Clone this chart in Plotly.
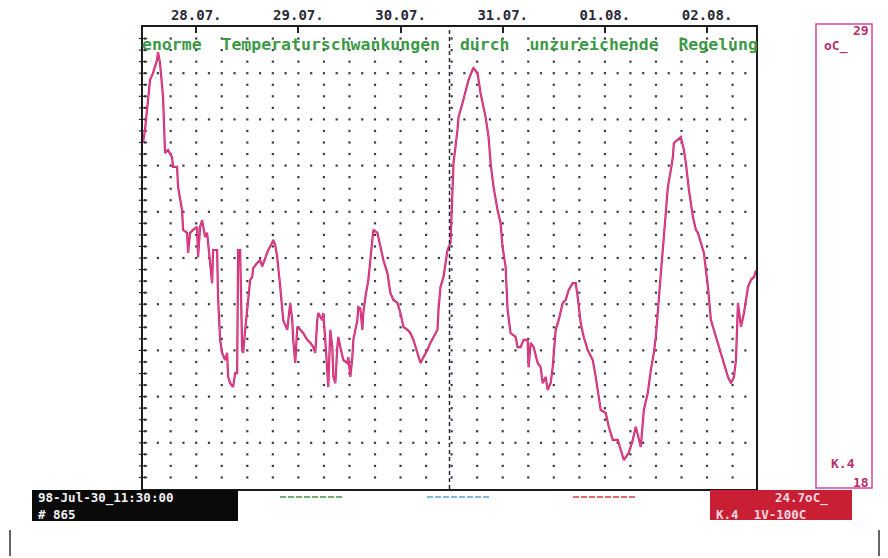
import plotly.graph_objects as go
import pandas as pd

# ---------------- data ----------------
START = "1998-07-27 11:30"
END = "1998-08-02 11:30"
CURSOR_TIME = "1998-07-30 11:30"

# hours after START
hours = [0, 0.47, 0.94, 1.65, 2.35, 3.29, 3.53, 4.0, 4.71, 5.18, 5.88, 6.82, 7.06, 8.0, 8.24, 9.18,
         9.41, 10.35, 10.59, 11.06, 11.76, 12.71, 12.94, 13.41, 13.88, 14.59, 15.06, 15.29, 16.24,
         16.47, 17.41, 17.65, 18.12, 18.59, 19.29, 19.76, 20.0, 20.47, 21.18, 21.65, 22.12, 22.35,
         22.82, 23.29, 23.53, 24.0, 24.71, 25.18, 25.65, 25.88, 26.82, 27.53, 28.0, 28.71, 29.41,
         30.35, 30.59, 31.06, 31.53, 32.24, 32.94, 33.88, 34.59, 35.06, 35.29, 35.76, 36.24, 36.94,
         37.65, 38.59, 39.29, 40.0, 40.47, 40.94, 41.18, 42.12, 42.35, 42.82, 43.29, 43.53, 44.0,
         44.47, 44.71, 45.18, 45.65, 45.88, 46.35, 47.06, 48.0, 48.24, 48.71, 49.18, 49.41, 50.35,
         50.59, 51.06, 51.53, 51.76, 52.24, 52.94, 53.88, 54.12, 55.06, 55.76, 56.47, 57.41, 58.12,
         58.82, 59.76, 60.47, 61.18, 62.12, 62.82, 63.53, 64.0, 64.47, 65.18, 65.88, 66.82, 67.53,
         68.24, 69.18, 69.41, 69.88, 70.59, 71.53, 72.24, 72.5, 72.94, 73.88, 74.12, 75.06, 75.76,
         76.47, 77.41, 77.65, 78.59, 79.29, 80.47, 81.18, 81.65, 82.35, 83.29, 84.0, 84.47, 85.18,
         85.65, 86.35, 87.53, 88.0, 88.71, 89.41, 90.35, 90.59, 91.06, 91.76, 92.71, 93.41, 93.88,
         94.59, 95.06, 95.76, 96.24, 96.94, 97.65, 98.59, 99.29, 100.0, 100.94, 101.65, 102.12,
         102.82, 103.53, 104.47, 105.65, 106.35, 107.53, 108.71, 109.41, 110.35, 111.53, 112.24,
         112.94, 114.12, 115.06, 115.76, 116.47, 116.94, 117.65, 118.59, 119.29, 120.0, 120.47,
         121.18, 121.65, 122.35, 122.8, 123.29, 124.0, 124.47, 124.71, 126.35, 127.06, 127.53,
         128.24, 129.18, 129.88, 130.35, 131.76, 132.71, 133.41, 134.59, 135.76, 136.47, 137.41,
         138.12, 138.82, 139.29, 139.76, 140.47, 141.18, 142.12, 142.82, 143.53, 144.0]

# temperature in degC
temps = [26.24, 26.55, 27.02, 27.74, 27.90, 28.21, 28.40, 28.14, 27.33, 26.0, 26.07, 25.90, 25.67,
         25.67, 25.19, 24.64, 24.17, 24.10, 23.62, 24.10, 24.17, 24.24, 23.52, 24.24, 24.40, 24.0,
         24.10, 23.86, 22.90, 23.69, 23.69, 22.50, 21.55, 21.24, 21.07, 21.24, 20.67, 20.52, 20.43,
         20.76, 20.76, 23.69, 23.69, 21.31, 21.24, 21.79, 22.43, 22.98, 23.05, 23.26, 23.38, 23.45,
         23.30, 23.52, 23.69, 23.86, 23.93, 23.81, 23.52, 22.81, 22.02, 21.79, 22.43, 22.02, 21.55,
         21.0, 21.86, 21.79, 21.71, 21.55, 21.48, 21.38, 21.24, 22.02, 22.19, 22.02, 22.19, 21.55,
         20.67, 20.43, 21.79, 21.38, 20.67, 20.52, 21.38, 21.62, 21.38, 21.07, 21.0, 21.14, 20.67,
         21.14, 21.55, 22.02, 22.33, 22.30, 21.79, 22.19, 22.57, 22.98, 23.93, 24.17, 24.10, 23.76,
         23.45, 23.14, 22.67, 22.50, 22.43, 22.19, 21.86, 21.79, 21.71, 21.55, 21.38, 21.24, 21.0,
         21.14, 21.31, 21.48, 21.62, 21.79, 22.26, 22.81, 23.05, 23.69, 23.86, 24.7, 25.76, 26.55,
         26.86, 27.19, 27.50, 27.74, 27.98, 28.02, 27.90, 27.43, 26.86, 26.38, 25.76, 25.19, 24.64,
         24.33, 23.76, 23.29, 22.26, 21.71, 21.62, 21.38, 21.38, 21.55, 21.55, 20.90, 21.48, 21.38,
         21.0, 20.90, 20.52, 20.67, 20.36, 20.52, 20.90, 21.79, 22.02, 22.43, 22.50, 22.74, 22.90,
         22.90, 22.57, 21.95, 21.62, 21.31, 21.07, 20.67, 19.88, 19.81, 19.48, 19.17, 19.17, 18.93,
         18.69, 18.86, 19.17, 19.48, 19.17, 19.0, 19.88, 20.29, 20.83, 21.24, 21.62, 22.43, 23.14,
         24.0, 24.5, 25.19, 25.60, 25.90, 26.24, 26.38, 26.07, 25.76, 25.12, 24.48, 24.17, 24.10,
         23.62, 22.81, 22.02, 21.62, 21.24, 21.0, 20.67, 20.52, 20.67, 21.07, 22.43, 21.86, 22.19,
         22.81, 22.98, 23.05, 23.2]

day_ticks = ["1998-07-28", "1998-07-29", "1998-07-30", "1998-07-31", "1998-08-01", "1998-08-02"]
day_labels = ["28.07.", "29.07.", "30.07.", "31.07.", "01.08.", "02.08."]

Y_MIN, Y_MAX = 18, 29
title_text = "enorme  Temperaturschwankungen  durch  unzureichende  Regelung"
cursor_stamp = "98-Jul-30_11:30:00"
cursor_count = "# 865"
current_value = "24.7oC_"
channel_info = "K.4  1V-100C"
unit_label = "oC_"
channel_label = "K.4"

# ---------------- helpers (page has an 8px body margin) ----------------
OFF = 8
W, H = 880, 550
def px(x):
    return (x - OFF) / W
def py(y):
    return 1 - (y - OFF) / H

PLOT_L, PLOT_R, PLOT_T, PLOT_B = 143, 756, 27, 489
MONO = "DejaVu Sans Mono"
PINK = "#b8306e"

times = pd.Timestamp(START) + pd.to_timedelta(hours, unit="h")

fig = go.Figure()

# dotted recorder grid
n_sub = 40
cols6 = pd.date_range("1998-07-27 12:00", "1998-08-02 06:00", freq="6h")
cols3 = pd.date_range("1998-07-27 12:00", "1998-08-02 09:00", freq="3h")
gx, gy = [], []
for k in range(1, n_sub):
    yv = Y_MIN + (Y_MAX - Y_MIN) * k / n_sub
    cols = cols3 if k % 4 == 0 else cols6
    for c in cols:
        gx.append(c)
        gy.append(yv)
fig.add_trace(go.Scatter(x=gx, y=gy, mode="markers", hoverinfo="skip",
                         marker=dict(symbol="square", size=2.2, color="#3a3a48", line=dict(width=0))))

# left-edge ticks
lx, ly = [], []
for k in range(1, n_sub):
    lx.append(pd.Timestamp(START))
    ly.append(Y_MIN + (Y_MAX - Y_MIN) * k / n_sub)
fig.add_trace(go.Scatter(x=lx, y=ly, mode="markers", hoverinfo="skip", cliponaxis=False,
                         marker=dict(symbol="line-ew", size=6, line=dict(width=1.2, color="#333"))))

# temperature curve
fig.add_trace(go.Scatter(x=times, y=temps, mode="lines", hoverinfo="skip",
                         line=dict(color="#c8285a", width=2.2)))
fig.add_trace(go.Scatter(x=times, y=temps, mode="lines", hoverinfo="skip",
                         line=dict(color="#e24aae", width=0.9)))

shapes = []
# cursor
shapes.append(dict(type="line", xref="x", yref="paper", x0=CURSOR_TIME, x1=CURSOR_TIME,
                   y0=py(PLOT_B), y1=py(PLOT_T), line=dict(color="#2a2a3a", width=1.5, dash="4px,3px")))
# right panel
shapes.append(dict(type="rect", xref="paper", yref="paper", x0=px(816), x1=px(872), y0=py(488), y1=py(24),
                   line=dict(color="#d8459c", width=1.5), fillcolor="rgba(0,0,0,0)"))
# black info box
shapes.append(dict(type="rect", xref="paper", yref="paper", x0=px(32), x1=px(238), y0=py(521), y1=py(490),
                   line=dict(width=0), fillcolor="#0a0a0a"))
# red value box
shapes.append(dict(type="rect", xref="paper", yref="paper", x0=px(710), x1=px(852), y0=py(520), y1=py(490),
                   line=dict(width=0), fillcolor="#c81f35"))
# legend dashes
for (x0, x1, col) in [(280, 343, "#3c9a46"), (427, 490, "#5aa2e0"), (573, 637, "#d04040")]:
    shapes.append(dict(type="line", xref="paper", yref="paper", x0=px(x0), x1=px(x1), y0=py(497), y1=py(497),
                       line=dict(color=col, width=1.6, dash="6px,2px")))
# little vertical bars at bottom
for xb in (10, 879):
    shapes.append(dict(type="line", xref="paper", yref="paper", x0=px(xb), x1=px(xb), y0=py(556), y1=py(530),
                       line=dict(color="#333", width=1.5)))

annotations = []
annotations.append(dict(xref="paper", yref="paper", x=px(450), y=py(45),
                        text="<b>" + title_text.replace(" ", "\u00a0") + "</b>",
                        showarrow=False, xanchor="center", yanchor="middle",
                        font=dict(family=MONO, size=16.5, color="#3c9a46")))
# right panel texts
annotations += [
    dict(xref="paper", yref="paper", x=px(871), y=py(30), text="<b>29</b>", showarrow=False,
         xanchor="right", yanchor="middle", font=dict(family=MONO, size=13, color=PINK)),
    dict(xref="paper", yref="paper", x=px(822), y=py(46), text="<b>" + unit_label + "</b>", showarrow=False,
         xanchor="left", yanchor="middle", font=dict(family=MONO, size=13, color=PINK)),
    dict(xref="paper", yref="paper", x=px(829), y=py(463), text="<b>" + channel_label + "</b>", showarrow=False,
         xanchor="left", yanchor="middle", font=dict(family=MONO, size=13, color=PINK)),
    dict(xref="paper", yref="paper", x=px(871), y=py(482), text="<b>18</b>", showarrow=False,
         xanchor="right", yanchor="middle", font=dict(family=MONO, size=13, color=PINK)),
]
# black box texts
annotations += [
    dict(xref="paper", yref="paper", x=px(36), y=py(497.5), text="<b>" + cursor_stamp + "</b>", showarrow=False,
         xanchor="left", yanchor="middle", font=dict(family=MONO, size=12.5, color="#f0f0f0")),
    dict(xref="paper", yref="paper", x=px(36), y=py(514), text="<b>" + cursor_count + "</b>", showarrow=False,
         xanchor="left", yanchor="middle", font=dict(family=MONO, size=12.5, color="#f0f0f0")),
]
# red box texts
annotations += [
    dict(xref="paper", yref="paper", x=px(830), y=py(497.5), text="<b>" + current_value + "</b>", showarrow=False,
         xanchor="right", yanchor="middle", font=dict(family=MONO, size=12.5, color="#f8d8e0")),
    dict(xref="paper", yref="paper", x=px(714), y=py(514), text="<b>" + channel_info.replace(" ", "\u00a0") + "</b>",
         showarrow=False, xanchor="left", yanchor="middle", font=dict(family=MONO, size=12.5, color="#f8d8e0")),
]

fig.update_layout(
    width=W, height=H, margin=dict(l=0, r=0, t=0, b=0),
    paper_bgcolor="white", plot_bgcolor="white", showlegend=False,
    shapes=shapes, annotations=annotations,
    xaxis=dict(type="date", range=[START, END], domain=[px(PLOT_L), px(PLOT_R)], side="top",
               tickmode="array", tickvals=day_ticks, ticktext=day_labels,
               ticks="inside", ticklen=6, tickwidth=1.5, tickcolor="#222",
               tickfont=dict(family=MONO, size=14, color="#2a2a38", weight="bold"),
               showgrid=False, zeroline=False, showline=True, linecolor="#1a1a22", linewidth=1.6,
               mirror=True, fixedrange=True),
    yaxis=dict(range=[Y_MIN, Y_MAX], domain=[py(PLOT_B), py(PLOT_T)], showticklabels=False,
               ticks="", showgrid=False, zeroline=False, showline=True, linecolor="#1a1a22",
               linewidth=1.6, mirror=True, fixedrange=True),
)

fig.write_html("out.html")
